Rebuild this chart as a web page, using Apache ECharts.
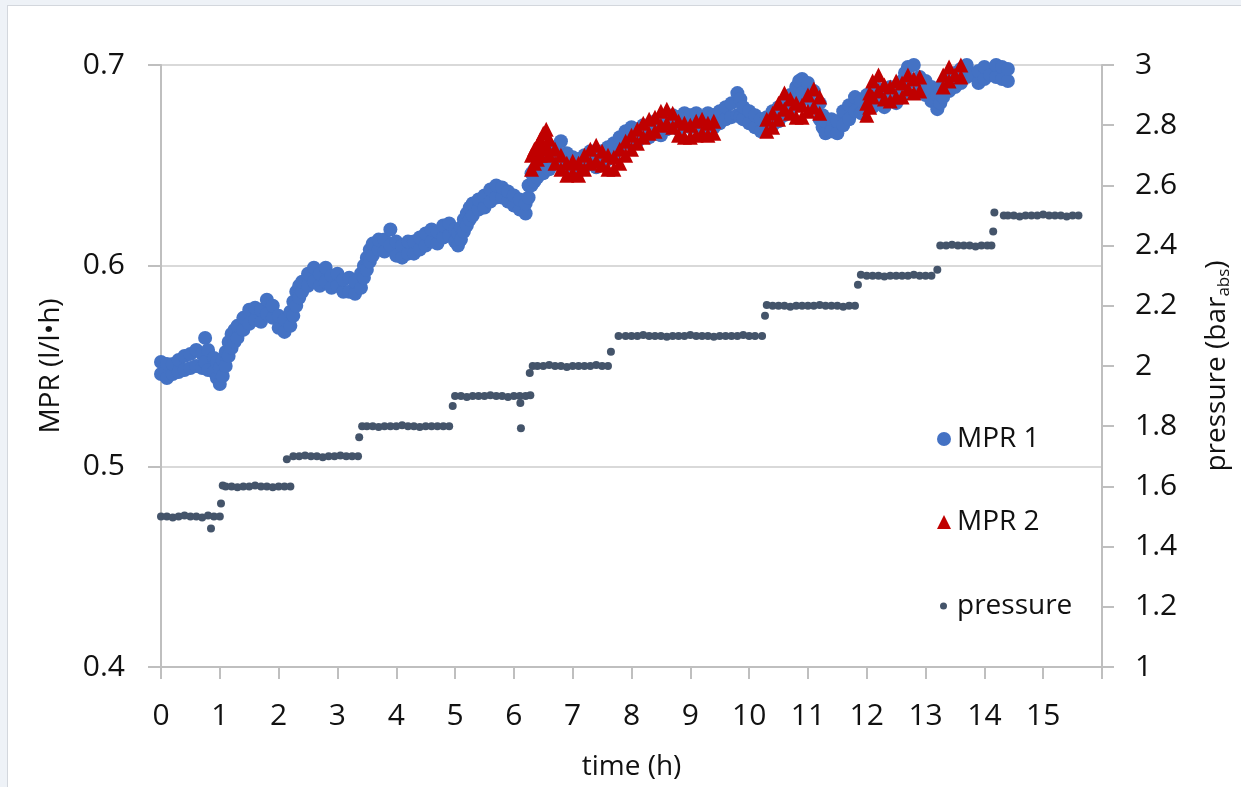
<!DOCTYPE html>
<html>
<head>
<meta charset="utf-8">
<script src="https://cdn.jsdelivr.net/npm/echarts@6/dist/echarts.min.js"></script>
<style>
  html, body { margin: 0; padding: 0; }
  body { width: 1241px; height: 787px; background: #eef2f7; position: relative; overflow: hidden; }
  #frame { position: absolute; left: 7px; top: 5px; width: 1240px; height: 790px; background: #fff; border-left: 1px solid #d3d7dd; border-top: 1px solid #d3d7dd; }
  #mprChart { position: absolute; left: 0; top: 0; width: 1241px; height: 787px; }
</style>
</head>
<body>
<div id="frame"></div>
<div id="mprChart"></div>
<script>
// MPR 1 band: time (h), lower and upper edge of the point cloud (l/l*h)
const mpr1 = [
  [0.0,0.546,0.552],[0.1,0.544,0.551],[0.2,0.546,0.551],[0.3,0.547,0.553],[0.4,0.548,0.555],[0.5,0.549,0.556],
  [0.6,0.550,0.558],[0.7,0.549,0.556],[0.75,0.552,0.564],[0.8,0.548,0.558],[0.9,0.547,0.554],[0.95,0.544,0.552],
  [1.0,0.541,0.549],[1.05,0.545,0.553],[1.1,0.550,0.557],[1.15,0.555,0.562],[1.2,0.559,0.566],[1.25,0.562,0.568],
  [1.3,0.564,0.570],[1.4,0.568,0.574],[1.5,0.571,0.578],[1.6,0.573,0.579],[1.7,0.572,0.578],[1.8,0.576,0.583],
  [1.9,0.574,0.580],[2.0,0.569,0.575],[2.1,0.567,0.573],[2.2,0.570,0.577],[2.25,0.575,0.582],[2.3,0.580,0.587],
  [2.35,0.584,0.590],[2.4,0.587,0.592],[2.5,0.590,0.596],[2.6,0.592,0.599],[2.7,0.590,0.596],[2.8,0.592,0.599],
  [2.9,0.589,0.595],[3.0,0.590,0.596],[3.1,0.587,0.593],[3.2,0.587,0.594],[3.3,0.586,0.592],[3.4,0.589,0.596],
  [3.45,0.594,0.600],[3.5,0.598,0.604],[3.55,0.602,0.608],[3.6,0.605,0.611],[3.7,0.608,0.613],[3.8,0.607,0.613],
  [3.9,0.610,0.618],[4.0,0.605,0.612],[4.1,0.604,0.610],[4.2,0.606,0.612],[4.3,0.606,0.612],[4.4,0.608,0.614],
  [4.5,0.610,0.616],[4.6,0.612,0.618],[4.7,0.611,0.617],[4.8,0.614,0.620],[4.9,0.615,0.621],[5.0,0.612,0.618],
  [5.05,0.610,0.616],[5.1,0.613,0.619],[5.15,0.617,0.623],[5.2,0.620,0.626],[5.25,0.623,0.629],[5.3,0.625,0.631],
  [5.4,0.628,0.633],[5.5,0.629,0.635],[5.6,0.632,0.638],[5.7,0.634,0.640],[5.8,0.634,0.639],[5.9,0.632,0.637],
  [6.0,0.630,0.635],[6.1,0.628,0.633],[6.2,0.626,0.631],[6.25,0.634,0.640],[6.3,0.640,0.646],[6.35,0.642,0.648],
  [6.4,0.644,0.650],[6.5,0.646,0.652],[6.6,0.648,0.655],[6.7,0.651,0.659],[6.8,0.653,0.662],[6.9,0.650,0.656],
  [7.0,0.648,0.654],[7.1,0.647,0.653],[7.2,0.649,0.655],[7.3,0.651,0.657],[7.4,0.649,0.655],[7.5,0.651,0.657],
  [7.6,0.653,0.659],[7.7,0.655,0.661],[7.8,0.658,0.664],[7.9,0.661,0.667],[8.0,0.663,0.669],[8.1,0.662,0.668],
  [8.2,0.664,0.670],[8.3,0.664,0.670],[8.4,0.666,0.672],[8.5,0.665,0.671],[8.6,0.668,0.674],[8.7,0.669,0.675],
  [8.8,0.668,0.674],[8.9,0.670,0.676],[9.0,0.669,0.675],[9.1,0.670,0.676],[9.2,0.668,0.674],[9.3,0.670,0.676],
  [9.4,0.669,0.675],[9.5,0.671,0.677],[9.6,0.673,0.679],[9.7,0.674,0.681],[9.8,0.675,0.686],[9.85,0.674,0.683],
  [9.9,0.673,0.679],[10.0,0.671,0.677],[10.1,0.669,0.675],[10.2,0.667,0.673],[10.3,0.668,0.674],[10.4,0.670,0.677],
  [10.5,0.672,0.679],[10.6,0.675,0.682],[10.7,0.677,0.685],[10.8,0.680,0.689],[10.85,0.684,0.692],[10.9,0.686,0.693],
  [11.0,0.683,0.691],[11.1,0.679,0.687],[11.2,0.673,0.681],[11.25,0.669,0.675],[11.3,0.666,0.672],[11.4,0.667,0.673],
  [11.5,0.666,0.672],[11.6,0.670,0.677],[11.7,0.673,0.680],[11.8,0.677,0.684],[11.9,0.676,0.682],[12.0,0.678,0.685],
  [12.1,0.679,0.686],[12.2,0.681,0.688],[12.3,0.679,0.686],[12.4,0.682,0.689],[12.5,0.681,0.688],[12.6,0.685,0.692],
  [12.65,0.688,0.696],[12.7,0.691,0.699],[12.75,0.693,0.701],[12.8,0.692,0.700],[12.9,0.687,0.694],[13.0,0.685,0.692],
  [13.1,0.682,0.689],[13.2,0.678,0.685],[13.25,0.681,0.688],[13.3,0.684,0.691],[13.4,0.687,0.694],[13.5,0.689,0.696],
  [13.6,0.691,0.698],[13.7,0.694,0.700],[13.8,0.695,0.701],[13.9,0.691,0.697],[14.0,0.693,0.699],[14.1,0.695,0.701],
  [14.2,0.694,0.700],[14.3,0.693,0.699],[14.4,0.692,0.698]
];

// MPR 2 band: time (h), lower and upper edge (l/l*h)
const mpr2 = [
  [6.3,0.648,0.655],[6.35,0.651,0.658],[6.4,0.653,0.660],[6.45,0.655,0.663],[6.5,0.658,0.666],[6.55,0.660,0.668],
  [6.6,0.655,0.663],[6.7,0.651,0.658],[6.8,0.648,0.655],[6.9,0.645,0.651],[7.0,0.646,0.652],[7.1,0.645,0.651],
  [7.2,0.648,0.655],[7.3,0.651,0.658],[7.4,0.652,0.660],[7.5,0.650,0.657],[7.6,0.648,0.655],[7.7,0.648,0.654],
  [7.8,0.651,0.658],[7.9,0.655,0.662],[8.0,0.658,0.665],[8.1,0.661,0.668],[8.2,0.664,0.671],[8.3,0.666,0.673],
  [8.4,0.667,0.674],[8.5,0.670,0.677],[8.6,0.671,0.678],[8.7,0.669,0.676],[8.8,0.665,0.672],[8.9,0.664,0.671],
  [9.0,0.664,0.670],[9.1,0.665,0.672],[9.2,0.666,0.673],[9.3,0.665,0.671],[9.4,0.666,0.672],
  [10.3,0.667,0.673],[10.4,0.669,0.676],[10.5,0.673,0.681],[10.6,0.678,0.686],[10.7,0.676,0.683],[10.8,0.674,0.681],
  [10.9,0.674,0.680],[11.0,0.677,0.685],[11.1,0.679,0.688],[11.2,0.676,0.684],
  [12.0,0.675,0.681],[12.05,0.679,0.686],[12.1,0.684,0.692],[12.2,0.687,0.695],[12.3,0.683,0.690],[12.4,0.682,0.689],
  [12.5,0.684,0.692],[12.6,0.684,0.691],[12.7,0.688,0.695],[12.8,0.686,0.693],[12.9,0.687,0.694],
  [13.3,0.689,0.695],[13.4,0.692,0.699],[13.5,0.695,0.702],[13.6,0.694,0.700]
];

// time (h), pressure (bar abs)
const pressure = [
  [0.0,1.5],[0.1,1.5],[0.2,1.497],[0.3,1.5],[0.4,1.503],[0.5,1.5],[0.6,1.5],[0.7,1.497],[0.8,1.503],[0.85,1.46],[0.9,1.5],[1.0,1.5],[1.02,1.543],
  [1.05,1.603],[1.1,1.6],[1.2,1.6],[1.3,1.597],[1.4,1.6],[1.5,1.6],[1.6,1.603],[1.7,1.6],[1.8,1.6],[1.9,1.597],[2.0,1.6],[2.1,1.6],[2.2,1.6],
  [2.14,1.69],[2.25,1.7],[2.35,1.7],[2.45,1.703],[2.55,1.7],[2.65,1.7],[2.75,1.697],[2.85,1.7],[2.95,1.7],[3.05,1.703],[3.15,1.7],[3.25,1.7],[3.35,1.7],[3.37,1.763],
  [3.42,1.8],[3.5,1.8],[3.6,1.8],[3.7,1.797],[3.8,1.8],[3.9,1.8],[4.0,1.8],[4.1,1.803],[4.2,1.8],[4.3,1.8],[4.4,1.797],[4.5,1.8],[4.6,1.8],[4.7,1.8],[4.8,1.8],[4.9,1.8],[4.96,1.867],
  [5.0,1.9],[5.1,1.9],[5.2,1.897],[5.3,1.9],[5.4,1.9],[5.5,1.9],[5.6,1.903],[5.7,1.9],[5.8,1.9],[5.9,1.897],[6.0,1.9],[6.1,1.9],[6.11,1.877],[6.12,1.793],[6.2,1.9],[6.28,1.903],
  [6.27,1.977],[6.32,2.0],[6.4,2.0],[6.5,2.0],[6.6,2.003],[6.7,2.0],[6.8,2.0],[6.9,1.997],[7.0,2.0],[7.1,2.0],[7.2,2.0],[7.3,2.0],[7.4,2.003],[7.5,2.0],[7.6,2.0],[7.65,2.047],
  [7.78,2.1],[7.9,2.1],[8.0,2.1],[8.1,2.1],[8.2,2.103],[8.3,2.1],[8.4,2.1],[8.5,2.1],[8.6,2.097],[8.7,2.1],[8.8,2.1],[8.9,2.1],[9.0,2.103],
  [9.1,2.1],[9.2,2.1],[9.3,2.1],[9.4,2.097],[9.5,2.1],[9.6,2.1],[9.7,2.1],[9.8,2.1],[9.9,2.103],[10.0,2.1],[10.1,2.1],[10.22,2.1],[10.27,2.167],
  [10.3,2.203],[10.4,2.2],[10.5,2.2],[10.6,2.2],[10.7,2.197],[10.8,2.2],[10.9,2.2],[11.0,2.2],[11.1,2.2],[11.2,2.203],[11.3,2.2],[11.4,2.2],[11.5,2.2],[11.6,2.197],[11.7,2.2],[11.8,2.2],[11.85,2.27],
  [11.9,2.303],[12.0,2.3],[12.1,2.3],[12.2,2.3],[12.3,2.297],[12.4,2.3],[12.5,2.3],[12.6,2.3],[12.7,2.3],[12.8,2.303],[12.9,2.3],[13.0,2.3],[13.1,2.3],[13.2,2.32],
  [13.25,2.4],[13.35,2.4],[13.45,2.403],[13.55,2.4],[13.65,2.4],[13.75,2.4],[13.85,2.397],[13.95,2.4],[14.05,2.4],[14.12,2.4],[14.15,2.447],[14.17,2.51],
  [14.33,2.5],[14.4,2.5],[14.5,2.5],[14.6,2.497],[14.7,2.5],[14.8,2.5],[14.9,2.5],[15.0,2.503],[15.1,2.5],[15.2,2.5],[15.3,2.5],[15.4,2.497],[15.5,2.5],[15.6,2.5]
];

// both edges of a band become points
function bandPoints(rows) {
  const pts = [];
  rows.forEach(function (r) {
    pts.push([r[0], r[1]]);
    pts.push([r[0], r[2]]);
  });
  return pts;
}

const textFont = "'Open Sans', 'Noto Sans', sans-serif";
const axisGrey = "#bfbfbf";

const chart = echarts.init(document.getElementById("mprChart"));
chart.setOption({
  backgroundColor: "transparent",
  animation: false,
  textStyle: { fontFamily: textFont, color: "#111" },
  grid: { left: 161, top: 65, width: 941, height: 602 },
  legend: [
    {
      orient: "vertical", left: 932, top: 420, itemWidth: 14, itemHeight: 14,
      textStyle: { fontSize: 28, color: "#111", padding: [0, 0, 0, 1] },
      data: [{ name: "MPR 1", icon: "circle" }]
    },
    {
      orient: "vertical", left: 932, top: 503, itemWidth: 14, itemHeight: 14,
      textStyle: { fontSize: 28, color: "#111", padding: [0, 0, 0, 1] },
      data: [{ name: "MPR 2", icon: "triangle" }]
    },
    {
      orient: "vertical", left: 935, top: 587, itemWidth: 7, itemHeight: 7,
      textStyle: { fontSize: 28, color: "#111", padding: [0, 0, 0, 5] },
      data: [{ name: "pressure", icon: "circle" }]
    }
  ],
  xAxis: {
    type: "value",
    min: 0,
    max: 16,
    interval: 1,
    name: "time (h)",
    nameLocation: "middle",
    nameGap: 86,
    nameTextStyle: { fontSize: 28, color: "#111" },
    axisLine: { show: true, lineStyle: { color: axisGrey, width: 2 } },
    axisTick: { show: true, length: 12, lineStyle: { color: axisGrey, width: 2 } },
    axisLabel: {
      fontSize: 30, color: "#111", margin: 34,
      formatter: function (v) { return v === 16 ? "" : String(v); }
    },
    splitLine: { show: false }
  },
  yAxis: [
    {
      type: "value",
      min: 0.4,
      max: 0.7,
      interval: 0.1,
      name: "MPR (l/l•h)",
      nameLocation: "middle",
      nameGap: 96,
      nameTextStyle: { fontSize: 28, color: "#111" },
      axisLine: { show: true, lineStyle: { color: axisGrey, width: 2 } },
      axisTick: { show: true, length: 13, lineStyle: { color: axisGrey, width: 2 } },
      axisLabel: { fontSize: 30, color: "#111", margin: 36, formatter: function (v) { return v.toFixed(1); } },
      splitLine: { show: true, lineStyle: { color: "#d9d9d9", width: 2 } }
    },
    {
      type: "value",
      position: "right",
      min: 1,
      max: 3,
      interval: 0.2,
      name: "pressure (bar{sub|abs})",
      nameLocation: "middle",
      nameGap: 100,
      nameTextStyle: {
        fontSize: 28, color: "#111",
        rich: { sub: { fontSize: 17, color: "#111", verticalAlign: "bottom", padding: [14, 0, 0, 0] } }
      },
      axisLine: { show: true, lineStyle: { color: axisGrey, width: 2 } },
      axisTick: { show: true, length: 12, lineStyle: { color: axisGrey, width: 2 } },
      axisLabel: {
        fontSize: 30, color: "#111", margin: 33,
        formatter: function (v) { return String(Math.round(v * 10) / 10); }
      },
      splitLine: { show: false }
    }
  ],
  series: [
    {
      name: "MPR 1",
      type: "scatter",
      yAxisIndex: 0,
      symbol: "circle",
      symbolSize: 14,
      itemStyle: { color: "#4472c4", opacity: 1 },
      data: bandPoints(mpr1)
    },
    {
      name: "MPR 2",
      type: "scatter",
      yAxisIndex: 0,
      symbol: "triangle",
      symbolSize: 15,
      itemStyle: { color: "#c00000", opacity: 1 },
      data: bandPoints(mpr2)
    },
    {
      name: "pressure",
      type: "scatter",
      yAxisIndex: 1,
      symbol: "circle",
      symbolSize: 8,
      itemStyle: { color: "#44546a", opacity: 1 },
      data: pressure
    }
  ]
});
</script>
</body>
</html>
